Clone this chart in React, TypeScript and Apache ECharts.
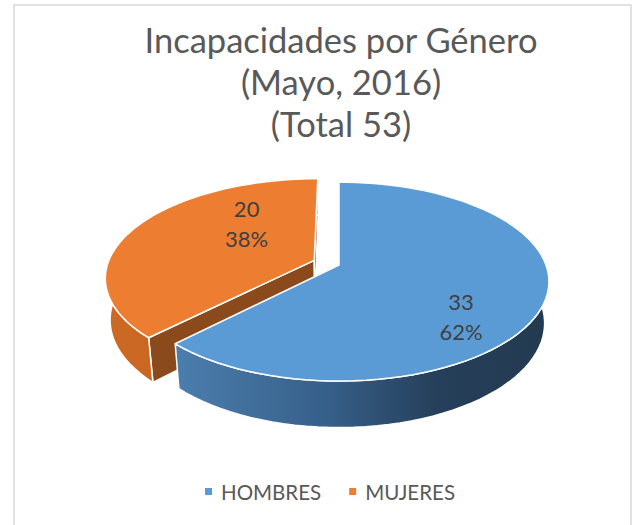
import React, { useEffect, useRef } from "react";
import * as echarts from "echarts";

// ---- data ----
const categories = ["HOMBRES", "MUJERES"];
const values = [33, 20];
const titleLines = ["Incapacidades por Género", "(Mayo, 2016)"];

// ---- style ----
const topColors = ["#5b9bd5", "#ed7d31"];
const sideStops = [
  [
    { offset: 0, color: "#4b7eae" },
    { offset: 0.4, color: "#37608a" },
    { offset: 0.7, color: "#263f5a" },
    { offset: 1, color: "#233a50" },
  ],
  [
    { offset: 0, color: "#cc6a24" },
    { offset: 1, color: "#bf5f1d" },
  ],
];
const wallColors = ["#2b4a68", "#8a4a1c"];
const explode = [0, 0.13];
const labelShift = [20, 27];
const labelRadius = [0.73, 0.55];

const P = { cx: 339, cy: 265, s: 207, sinA: 0.467, cosA: 0.884, D: 5.3, h: 0.23 };

function proj(X: number, Y: number, Z: number): [number, number] {
  const depth = Z * P.cosA + Y * P.sinA;
  const k = P.D / (P.D - depth);
  return [P.cx + P.s * X * k, P.cy + P.s * (Z * P.sinA - Y * P.cosA) * k];
}

const total = values.reduce((a, b) => a + b, 0);

function makeRender(i: number) {
  return (params: any, api: any) => {
    const v = api.value(0);
    let before = 0;
    for (let j = 0; j < i; j++) before += values[j];
    const t0 = (before / total) * 2 * Math.PI;
    const t1 = t0 + (v / total) * 2 * Math.PI;
    const tm = (t0 + t1) / 2;
    const ox = explode[i] * Math.sin(tm);
    const oz = -explode[i] * Math.cos(tm);
    const rim = (t: number, Y: number) => proj(ox + Math.sin(t), Y, oz - Math.cos(t));
    const N = 80;
    const topArc: [number, number][] = [];
    const botArc: [number, number][] = [];
    for (let n = 0; n <= N; n++) {
      const t = t0 + ((t1 - t0) * n) / N;
      topArc.push(rim(t, 0));
      botArc.push(rim(t, -P.h));
    }
    const c0 = proj(ox, 0, oz);
    const c1 = proj(ox, -P.h, oz);
    const children: any[] = [];
    const cam = [0, P.D * P.sinA, P.D * P.cosA];
    const walls = [
      { t: t0, n: [-Math.cos(t0), -Math.sin(t0)] },
      { t: t1, n: [Math.cos(t1), Math.sin(t1)] },
    ];
    walls.forEach((w) => {
      const px = ox + 0.5 * Math.sin(w.t);
      const pz = oz - 0.5 * Math.cos(w.t);
      const dot = w.n[0] * (cam[0] - px) + w.n[1] * (cam[2] - pz);
      if (dot <= 0) return;
      const e0 = rim(w.t, 0);
      const e1 = rim(w.t, -P.h);
      children.push({
        type: "polygon",
        z2: 1,
        shape: { points: [c0, e0, e1, c1] },
        style: { fill: wallColors[i], stroke: "#ffffff", lineWidth: 1.5, lineJoin: "round" },
      });
    });
    children.push({
      type: "polygon",
      z2: 2,
      shape: { points: topArc.concat(botArc.slice().reverse()) },
      style: {
        fill: new echarts.graphic.LinearGradient(0, 0, 1, 0, sideStops[i]),
        stroke: "#ffffff",
        lineWidth: 1.5,
        lineJoin: "round",
      },
    });
    children.push({
      type: "polygon",
      z2: 3,
      shape: { points: [c0].concat(topArc) },
      style: { fill: topColors[i], stroke: "#ffffff", lineWidth: 1.5, lineJoin: "round" },
    });
    const lt = tm + (labelShift[i] * Math.PI) / 180;
    const lr = labelRadius[i];
    const lp = proj(ox + lr * Math.sin(lt), 0, oz - lr * Math.cos(lt));
    children.push({
      type: "text",
      z2: 10,
      x: lp[0],
      y: lp[1],
      style: {
        text: v + "\n" + Math.round((v / total) * 100) + "%",
        fill: "#404040",
        fontSize: 22,
        fontFamily: "Lato",
        align: "center",
        verticalAlign: "middle",
        lineHeight: 30,
      },
    });
    return { type: "group", children };
  };
}

export default function App() {
  const ref = useRef<HTMLDivElement>(null);
  useEffect(() => {
    if (!ref.current) return;
    const chart = echarts.init(ref.current, null, { renderer: "svg" });
    chart.setOption({
      animation: false,
      backgroundColor: "#ffffff",
      graphic: [
        {
          type: "rect",
          shape: { x: 14, y: 5, width: 617, height: 530 },
          style: { fill: "none", stroke: "#d9d9d9", lineWidth: 1.5 },
          silent: true,
        },
        {
          type: "text",
          x: 341,
          y: 81,
          style: {
            text: titleLines.concat(["(Total " + total + ")"]).join("\n"),
            fill: "#595959",
            fontSize: 34.5,
            fontFamily: "Lato",
            align: "center",
            verticalAlign: "middle",
            lineHeight: 42,
          },
        },
      ],
      legend: {
        top: 476,
        left: 200,
        icon: "rect",
        itemWidth: 7,
        itemHeight: 7,
        itemGap: 28,
        data: categories,
        textStyle: { fontSize: 20.5, color: "#595959", fontFamily: "Lato", padding: [0, 0, 0, 4] },
      },
      series: categories.map((name, i) => ({
        type: "custom",
        name,
        coordinateSystem: "none",
        itemStyle: { color: topColors[i] },
        data: [[values[i]]],
        renderItem: makeRender(i),
      })),
    });
    return () => chart.dispose();
  }, []);
  return (
    <div
      ref={ref}
      style={{ position: "absolute", left: 0, top: 0, width: 633, height: 525 }}
    />
  );
}
